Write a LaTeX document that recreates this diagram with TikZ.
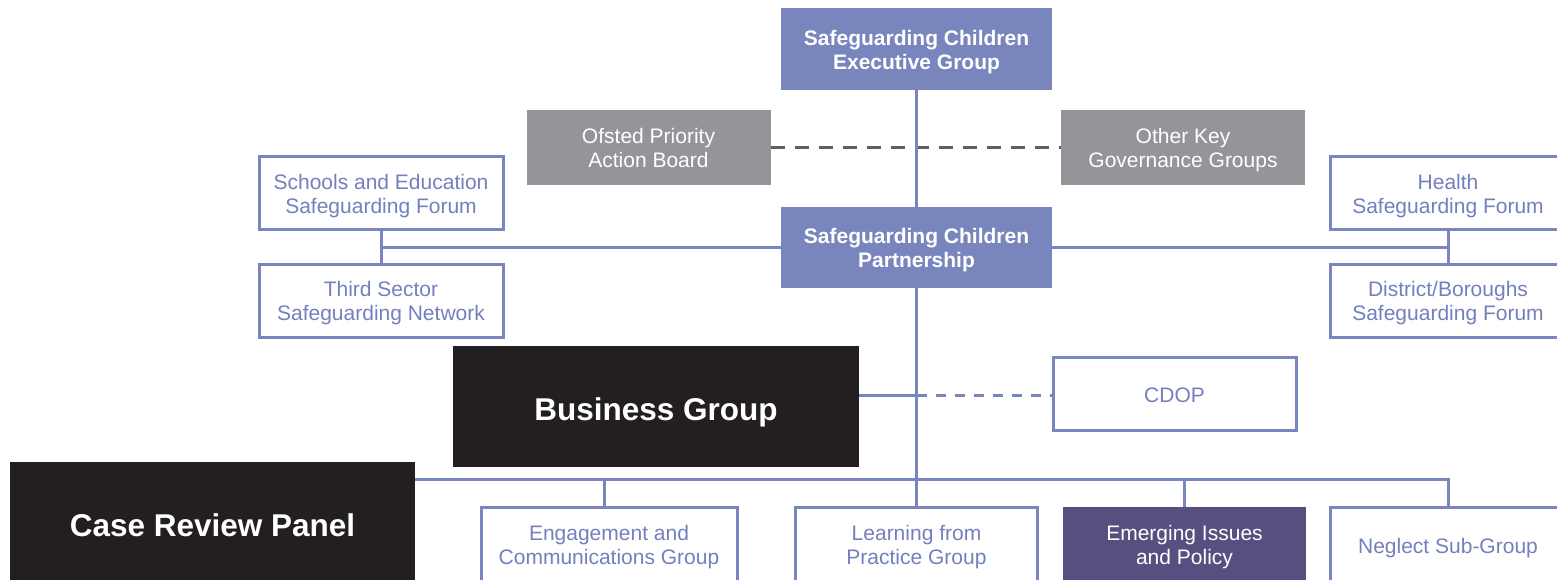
\documentclass[tikz,border=0pt]{standalone}
\usepackage{fontspec}
\setmainfont{Liberation Sans}
\usetikzlibrary{positioning}
\definecolor{scpblue}{HTML}{7986BE}
\definecolor{scptext}{HTML}{7480BE}
\definecolor{boardgrey}{HTML}{939598}
\definecolor{tiegrey}{HTML}{5E5F61}
\definecolor{paneldark}{HTML}{231F20}
\definecolor{issuepurple}{HTML}{594E80}
\begin{document}
\begin{tikzpicture}[
    x=1pt, y=-1pt,
    every node/.style={font=\fontsize{21}{24}\selectfont, align=center, inner sep=0pt, outer sep=0pt,
      text height=45.5pt, text depth=5pt},
    oneline/.style={text height=22pt},
    lead/.style={rectangle, fill=scpblue, text=white, font=\fontsize{21}{24}\selectfont\bfseries, minimum width=271pt, minimum height=82pt},
    board/.style={rectangle, fill=boardgrey, text=white, minimum width=244pt, minimum height=75pt},
    forum/.style={rectangle, draw=scpblue, line width=3pt, fill=white, text=scptext, minimum width=244pt, minimum height=73pt},
    panel/.style={rectangle, fill=paneldark, text=white, font=\fontsize{31.5}{36}\selectfont\bfseries, minimum width=406pt, minimum height=121pt,
      text height=34pt, text depth=6pt},
    link/.style={draw=scpblue, line width=3pt},
    tie/.style={draw=tiegrey, line width=3pt, dash pattern=on 14pt off 10pt},
    dotlink/.style={draw=scpblue, line width=3pt, dash pattern=on 10pt off 9pt}
  ]
    \path[use as bounding box, clip] (0,0) rectangle (1557,580);
    % Nodes
    \node[lead] (exec) at (916.5,49) {Safeguarding Children\\Executive Group};
    \node[lead, minimum height=81pt] (partner) at (916.5,247.5) {Safeguarding Children\\Partnership};
    \node[board] (ofsted) at (648.5,147.5) {Ofsted Priority\\Action Board};
    \node[board] (other) at (1183,147.5) {Other Key\\Governance Groups};
    \node[forum, minimum height=72pt] (schools) at (381,193) {Schools and Education\\Safeguarding Forum};
    \node[forum, below=35pt of schools] (third) {Third Sector\\Safeguarding Network};
    \node[forum, minimum width=236pt, minimum height=72pt] (health) at (1448,193) {Health\\Safeguarding Forum};
    \node[forum, minimum width=236pt, below=35pt of health] (district) {District/Boroughs\\Safeguarding Forum};
    \node[panel] (business) at (656,406.5) {Business Group};
    \node[forum, oneline, minimum width=243pt] (cdop) at (1174.5,393.5) {CDOP};
    \node[panel, minimum width=405pt] (case) at (212.5,522.5) {Case Review Panel};
    \node[forum, minimum width=256pt, minimum height=75pt] (engage) at (609,544.5) {Engagement and\\Communications Group};
    \node[forum, minimum width=242pt, minimum height=75pt] (learning) at (916.5,544.5) {Learning from\\Practice Group};
    \node[rectangle, fill=issuepurple, text=white, minimum width=243pt, minimum height=75pt] (emerging) at (1184.5,544.5) {Emerging Issues\\and Policy};
    \node[forum, oneline, minimum width=236pt, minimum height=75pt] (neglect) at (1448,544.5) {Neglect Sub-Group};
    \coordinate (hub) at (916.5,395);
    \coordinate (bus) at (916.5,479);
    % Governance tie
    \draw[tie] (ofsted.east) -- (other.west);
    % Main spine
    \draw[link] (exec.south) -- (partner.north);
    \draw[link] (partner.south) -- (learning.north);
    % Forums
    \draw[link] (schools.south) -- (third.north);
    \draw[link] (schools.south |- partner.west) -- (partner.west);
    \draw[link] (health.south) -- (district.north);
    \draw[link] (partner.east) -- (health.south |- partner.east);
    % Business group and CDOP
    \draw[link] (business.east |- hub) -- (hub);
    \draw[dotlink] (hub) -- (cdop.west |- hub);
    % Sub-groups
    \draw[link] (case.east |- bus) -- (neglect.north |- bus) -- (neglect.north);
    \draw[link] ([xshift=-5pt]engage.north) -- ([xshift=-5pt]engage.north |- bus);
    \draw[link] (emerging.north) -- (emerging.north |- bus);
\end{tikzpicture}
\end{document}
